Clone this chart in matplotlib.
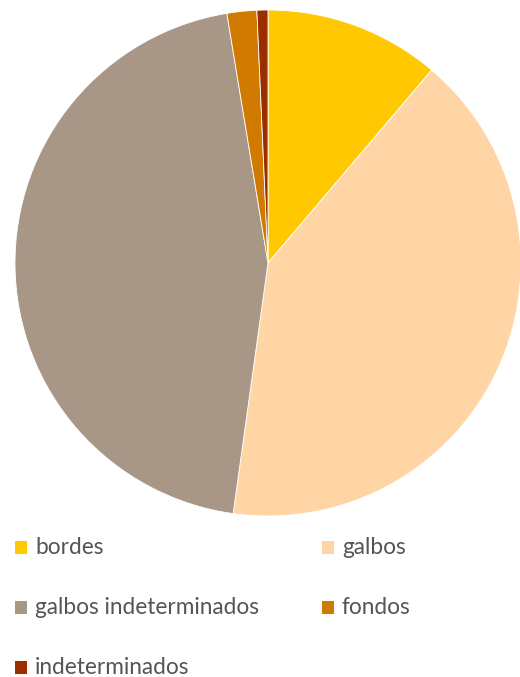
import matplotlib
matplotlib.use('Agg')
import matplotlib.pyplot as plt
from matplotlib.patches import Rectangle

# datos (porcentaje estimado de cada categoría)
categorias = ['bordes', 'galbos', 'galbos indeterminados', 'fondos', 'indeterminados']
valores = [11.2, 41.0, 45.2, 1.9, 0.7]
colores = ['#FFC800', '#FFD5A5', '#A89787', '#D07A00', '#9A2E00']

plt.rcParams['font.family'] = ['Lato', 'DejaVu Sans']

fig = plt.figure(figsize=(5.2, 6.77), dpi=100)
W, H = 520, 677

# área del pastel: centro (268, 263), radio 253 en píxeles
cx, cy, r = 268, 263, 253
ax = fig.add_axes([(cx - r) / W, (H - cy - r) / H, 2 * r / W, 2 * r / H])
ax.pie(valores, colors=colores, startangle=90, counterclock=False,
       wedgeprops=dict(linewidth=0.6, edgecolor='white'))
ax.set_xlim(-1, 1)
ax.set_ylim(-1, 1)
ax.set_aspect('equal')
ax.axis('off')

# leyenda en dos columnas, orden por filas
col_x = [15, 322]
fila_y = [547, 607, 667]
for i, (lab, col) in enumerate(zip(categorias, colores)):
    fila, c = divmod(i, 2)
    x, y = col_x[c], fila_y[fila]
    fig.patches.append(Rectangle((x / W, (H - y - 6.5) / H), 12 / W, 13 / H,
                                 facecolor=col, edgecolor='none',
                                 transform=fig.transFigure, figure=fig))
    fig.text((x + 20) / W, (H - y) / H, lab, fontsize=16.3, color='#555555',
             va='center', ha='left')

fig.savefig('out.png', dpi=100)
